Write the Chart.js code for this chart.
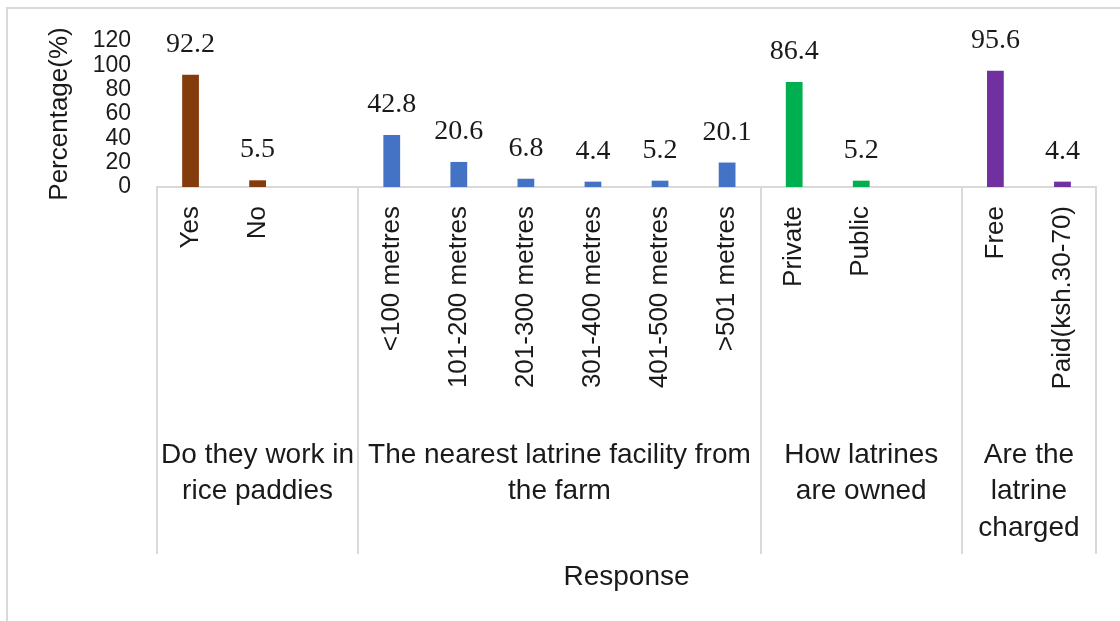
<!DOCTYPE html>
<html>
<head>
<meta charset="utf-8">
<title>Latrine use among rice farmers</title>
<script src="https://cdn.jsdelivr.net/npm/chart.js@4.4.1/dist/chart.umd.min.js"></script>
<style>
  html, body { margin: 0; padding: 0; background: #fff; }
  #wrap { width: 1120px; height: 621px; position: relative; }
</style>
</head>
<body>
<div id="wrap"><canvas id="latrineChart"></canvas></div>
<script>
// categories along the axis; empty slots keep the gaps between question groups
const categories = [
  "Yes", "No", "",
  "<100 metres", "101-200 metres", "201-300 metres", "301-400 metres", "401-500 metres", ">501 metres",
  "Private", "Public", "",
  "Free", "Paid(ksh.30-70)"
];
const percentages = [92.2, 5.5, null, 42.8, 20.6, 6.8, 4.4, 5.2, 20.1, 86.4, 5.2, null, 95.6, 4.4];

// second row of the category axis
const groupNames = [
  ["Do they work in", "rice paddies"],
  ["The nearest latrine facility from", "the farm"],
  ["How latrines", "are owned"],
  ["Are the", "latrine", "charged"]
];
const groupSizes = [3, 6, 3, 2];
const groupColors = ["#843c0c", "#4472c4", "#00b050", "#7030a0"];
const yTicks = [0, 20, 40, 60, 80, 100, 120];

const SANS = "'Liberation Sans', Arial, sans-serif";
const SERIF = "'Liberation Serif', 'Times New Roman', serif";
const TEXT = "#1a1a1a";
const LINE = "#d9d9d9";

const barColors = [];
groupSizes.forEach((n, g) => { for (let i = 0; i < n; i++) barColors.push(groupColors[g]); });

const responseAxis = {
  id: "responseAxis",
  beforeDraw(chart) {
    const ctx = chart.ctx;
    ctx.save();
    ctx.strokeStyle = LINE;
    ctx.lineWidth = 2;
    ctx.beginPath();
    ctx.moveTo(7, chart.height);
    ctx.lineTo(7, 8);
    ctx.lineTo(chart.width, 8);
    ctx.stroke();
    ctx.restore();
  },
  afterDraw(chart) {
    const ctx = chart.ctx;
    const x = chart.scales.x;
    const area = chart.chartArea;
    const edge = i => {
      if (i <= 0) return area.left;
      if (i >= categories.length) return area.right;
      return (x.getPixelForValue(i - 1) + x.getPixelForValue(i)) / 2;
    };

    ctx.save();
    // group separators below the axis
    ctx.strokeStyle = LINE;
    ctx.lineWidth = 2;
    let start = 0;
    const bounds = [0];
    groupSizes.forEach(n => { start += n; bounds.push(start); });
    bounds.forEach(b => {
      const px = Math.round(edge(b));
      ctx.beginPath();
      ctx.moveTo(px, area.bottom);
      ctx.lineTo(px, 554);
      ctx.stroke();
    });

    // group names
    ctx.fillStyle = TEXT;
    ctx.font = "28px " + SANS;
    ctx.textAlign = "center";
    ctx.textBaseline = "middle";
    groupNames.forEach((lines, g) => {
      const cx = (edge(bounds[g]) + edge(bounds[g + 1])) / 2;
      lines.forEach((line, k) => ctx.fillText(line, cx, 455 + k * 36.5));
    });

    // value labels above the bars
    ctx.font = "28px " + SERIF;
    ctx.textBaseline = "alphabetic";
    chart.getDatasetMeta(0).data.forEach((bar, i) => {
      const v = percentages[i];
      if (v === null) return;
      ctx.fillText(v.toFixed(1), bar.x, bar.y - 23);
    });
    ctx.restore();
  }
};

new Chart(document.getElementById("latrineChart"), {
  type: "bar",
  data: {
    labels: categories,
    datasets: [{
      data: percentages,
      backgroundColor: barColors,
      borderWidth: 0,
      categoryPercentage: 1,
      barPercentage: 0.25
    }]
  },
  options: {
    responsive: true,
    maintainAspectRatio: false,
    animation: false,
    layout: { padding: { left: 20, top: 41, right: 24, bottom: 0 } },
    plugins: {
      legend: { display: false },
      tooltip: { enabled: false }
    },
    scales: {
      x: {
        offset: true,
        grid: { display: false, drawTicks: false },
        border: { display: true, color: LINE, width: 2 },
        ticks: {
          autoSkip: false,
          minRotation: 90,
          maxRotation: 90,
          padding: 19,
          color: TEXT,
          font: { family: SANS, size: 26 }
        },
        title: {
          display: true,
          text: "Response",
          color: TEXT,
          font: { family: SANS, size: 28 },
          padding: { top: 0, bottom: 27 }
        },
        afterFit: s => { s.height = 434; }
      },
      y: {
        min: 0,
        max: 120,
        afterBuildTicks: s => { s.ticks = yTicks.map(v => ({ value: v })); },
        grid: { display: false, drawTicks: false },
        border: { display: false },
        ticks: {
          autoSkip: false,
          padding: 26,
          color: TEXT,
          font: { family: SANS, size: 23, lineHeight: 1 }
        },
        title: {
          display: true,
          text: "Percentage(%)",
          color: TEXT,
          font: { family: SANS, size: 26 },
          padding: { top: 24, bottom: 0 }
        },
        afterFit: s => { s.width = 137; }
      }
    }
  },
  plugins: [responseAxis]
});
</script>
</body>
</html>
